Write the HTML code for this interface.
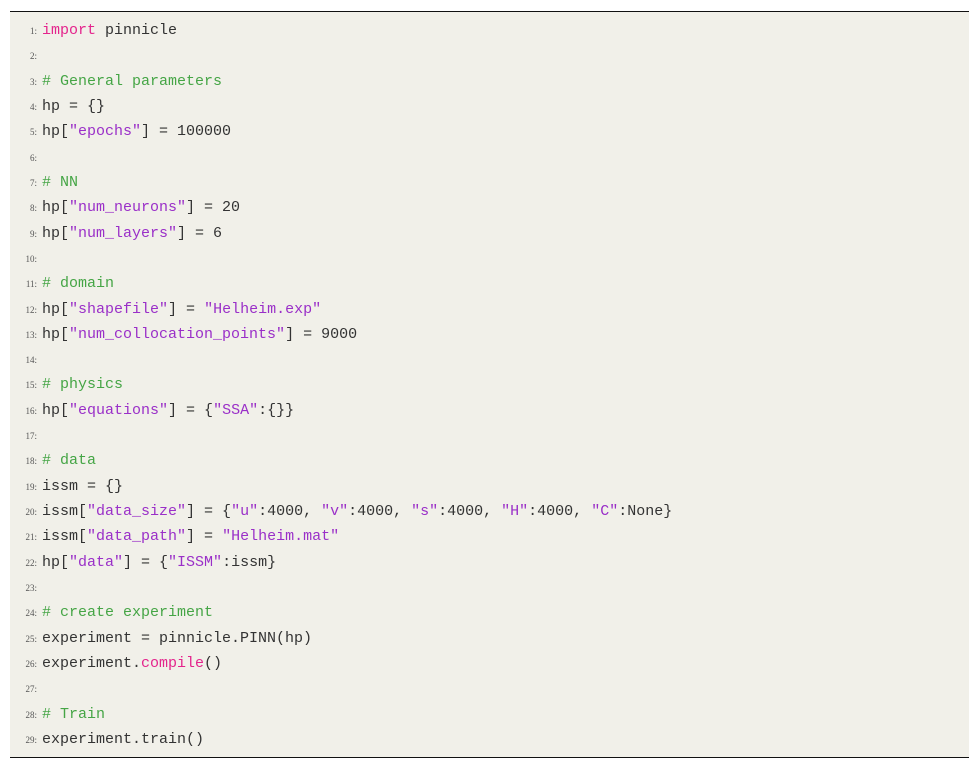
<!DOCTYPE html>
<html><head><meta charset="utf-8"><style>
body{margin:0;background:#fff;width:979px;height:768px;position:relative;overflow:hidden}
.box{position:absolute;left:10px;top:11px;width:959px;height:745px;background:#f1f0e9;border-top:1.5px solid #111;border-bottom:1.5px solid #111}
.l{position:absolute;left:0;height:20px;line-height:20px;white-space:pre;font-family:"Liberation Mono",monospace;font-size:15px;color:#333}
.n{position:absolute;left:0;width:27px;text-align:right;font-family:"Liberation Serif",serif;font-size:9px;color:#555}
.c{position:absolute;left:32px}
.k{color:#e4248c}.s{color:#9a2fc8}.m{color:#45a545}
</style></head><body><div class="box" id="b"></div>
<script>
var L=[
'<span class="k">import</span> pinnicle','',
'<span class="m"># General parameters</span>','hp = {}',
'hp[<span class="s">"epochs"</span>] = 100000','',
'<span class="m"># NN</span>','hp[<span class="s">"num_neurons"</span>] = 20','hp[<span class="s">"num_layers"</span>] = 6','',
'<span class="m"># domain</span>','hp[<span class="s">"shapefile"</span>] = <span class="s">"Helheim.exp"</span>','hp[<span class="s">"num_collocation_points"</span>] = 9000','',
'<span class="m"># physics</span>','hp[<span class="s">"equations"</span>] = {<span class="s">"SSA"</span>:{}}','',
'<span class="m"># data</span>','issm = {}',
'issm[<span class="s">"data_size"</span>] = {<span class="s">"u"</span>:4000, <span class="s">"v"</span>:4000, <span class="s">"s"</span>:4000, <span class="s">"H"</span>:4000, <span class="s">"C"</span>:None}',
'issm[<span class="s">"data_path"</span>] = <span class="s">"Helheim.mat"</span>','hp[<span class="s">"data"</span>] = {<span class="s">"ISSM"</span>:issm}','',
'<span class="m"># create experiment</span>','experiment = pinnicle.PINN(hp)','experiment.<span class="k">compile</span>()','',
'<span class="m"># Train</span>','experiment.train()'];
var h='';for(var i=0;i<L.length;i++){var y=9+i*25.32;
h+='<div class="l" style="top:'+y+'px;width:950px"><span class="n">'+(i+1)+':</span><span class="c">'+L[i]+'</span></div>';}
document.getElementById('b').innerHTML=h;
</script></body></html>
